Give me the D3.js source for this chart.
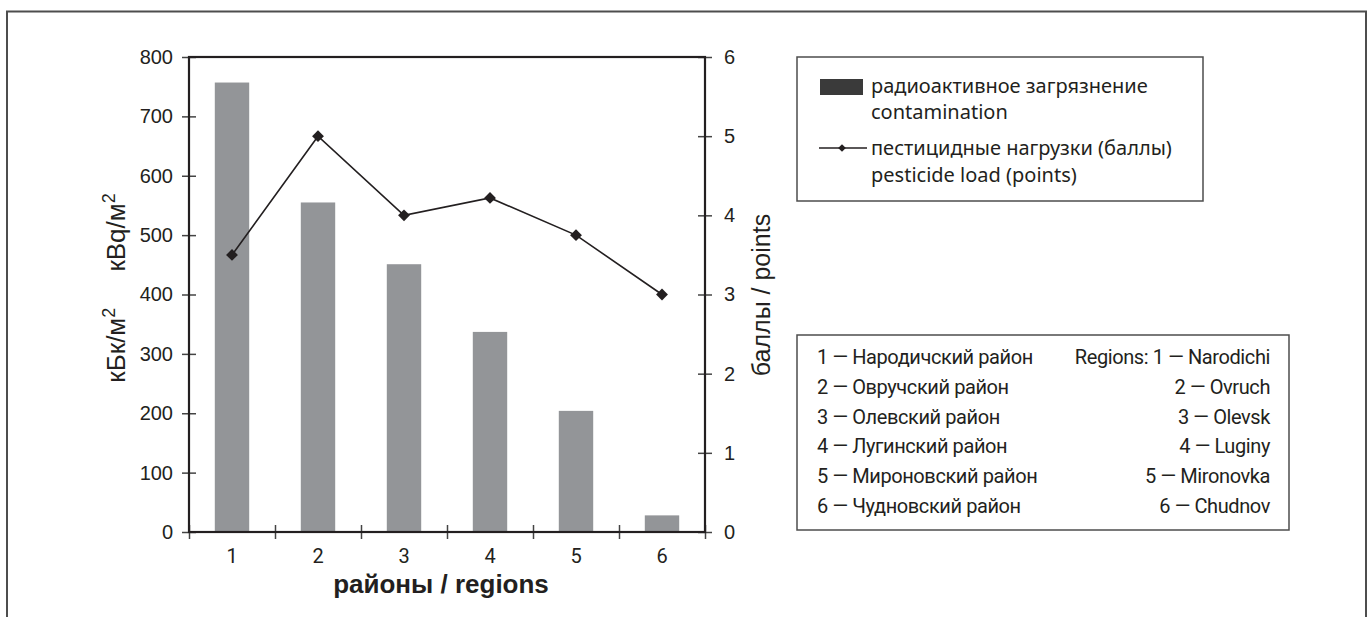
<!DOCTYPE html>
<html>
<head>
<meta charset="utf-8">
<script src="https://cdn.jsdelivr.net/npm/d3@7"></script>
<style>
  body { margin: 0; background: #fff; }
  svg { display: block; }
</style>
</head>
<body>
<svg id="chart"></svg>
<script>
// chart data
const regions = ["1", "2", "3", "4", "5", "6"];
const contamination = [757, 555, 451, 337, 204, 28];   // kBq/m2
const pesticideLoad = [3.5, 5.0, 4.0, 4.22, 3.75, 3.0]; // points
const leftTicks = [0, 100, 200, 300, 400, 500, 600, 700, 800];
const rightTicks = [0, 1, 2, 3, 4, 5, 6];

const legendItems = [
  ["радиоактивное загрязнение", "contamination"],
  ["пестицидные нагрузки (баллы)", "pesticide load (points)"]
];
const regionNamesRu = [
  "1 — Народичский район",
  "2 — Овручский район",
  "3 — Олевский район",
  "4 — Лугинский район",
  "5 — Мироновский район",
  "6 — Чудновский район"
];
const regionNamesEn = [
  "Regions: 1 — Narodichi",
  "2 — Ovruch",
  "3 — Olevsk",
  "4 — Luginy",
  "5 — Mironovka",
  "6 — Chudnov"
];

const width = 1372, height = 617;
const ink = "#231f20";
const barColor = "#939598";
const tickFont = "'Liberation Sans', Arial, sans-serif";
const narrowFont = "Roboto, 'Liberation Sans', sans-serif";
const legendFont = "'Noto Sans', 'Open Sans', sans-serif";

const svg = d3.select("#chart").attr("width", width).attr("height", height);

// outer frame (open at the bottom)
svg.append("path")
  .attr("d", `M7,${height} V11.5 H1366 V${height}`)
  .attr("fill", "none")
  .attr("stroke", "#4d4d4d")
  .attr("stroke-width", 2);

const plot = { left: 189, right: 705, top: 57, bottom: 532 };

const x = d3.scaleBand()
  .domain(regions)
  .range([plot.left, plot.right])
  .paddingInner(0.6)
  .paddingOuter(0.3);

const xEdges = d3.scaleLinear().domain([0, regions.length]).range([plot.left, plot.right]);
const y = d3.scaleLinear().domain([0, 800]).range([plot.bottom, plot.top]);
const y2 = d3.scaleLinear().domain([0, 6]).range([plot.bottom, plot.top]);

// bars
svg.append("g")
  .selectAll("rect")
  .data(contamination)
  .enter()
  .append("rect")
  .attr("x", (d, i) => x(regions[i]))
  .attr("y", d => y(d))
  .attr("width", x.bandwidth())
  .attr("height", d => y(0) - y(d))
  .attr("fill", barColor);

// left axis
const gLeft = svg.append("g")
  .attr("transform", `translate(${plot.left},0)`)
  .call(d3.axisLeft(y).tickValues(leftTicks).tickSize(7).tickSizeOuter(0).tickPadding(9));
gLeft.selectAll(".tick line").attr("x1", 7).attr("stroke", "#444").attr("stroke-width", 1.5);
gLeft.selectAll(".tick text").attr("font-family", tickFont).attr("font-size", 20).attr("fill", ink);

// right axis
const gRight = svg.append("g")
  .attr("transform", `translate(${plot.right},0)`)
  .call(d3.axisRight(y2).tickValues(rightTicks).tickFormat(d3.format("d"))
    .tickSize(7).tickSizeOuter(0).tickPadding(12));
gRight.selectAll(".tick line").attr("x1", -7).attr("stroke", "#444").attr("stroke-width", 1.5);
gRight.selectAll(".tick text").attr("font-family", tickFont).attr("font-size", 20).attr("fill", ink);

// bottom axis: ticks at category edges, labels at centres
const gEdges = svg.append("g")
  .attr("transform", `translate(0,${plot.bottom})`)
  .call(d3.axisBottom(xEdges).ticks(regions.length).tickSize(7).tickSizeOuter(0).tickFormat(""));
gEdges.selectAll(".tick line").attr("y1", -7).attr("stroke", "#444").attr("stroke-width", 1.5);

const gBottom = svg.append("g")
  .attr("transform", `translate(0,${plot.bottom})`)
  .call(d3.axisBottom(x).tickSize(0).tickSizeOuter(0).tickPadding(17));
gBottom.selectAll(".tick text").attr("font-family", narrowFont).attr("font-size", 20).attr("fill", ink);

svg.selectAll(".domain").remove();

// plot border
svg.append("rect")
  .attr("x", plot.left)
  .attr("y", plot.top)
  .attr("width", plot.right - plot.left)
  .attr("height", plot.bottom - plot.top)
  .attr("fill", "none")
  .attr("stroke", ink)
  .attr("stroke-width", 2.2);

// pesticide line
const line = d3.line()
  .x((d, i) => x(regions[i]) + x.bandwidth() / 2)
  .y(d => y2(d));

svg.append("path")
  .datum(pesticideLoad)
  .attr("fill", "none")
  .attr("stroke", ink)
  .attr("stroke-width", 1.6)
  .attr("d", line);

const diamond = d3.symbol().type(d3.symbolSquare).size(70);
svg.append("g")
  .selectAll("path")
  .data(pesticideLoad)
  .enter()
  .append("path")
  .attr("d", diamond)
  .attr("fill", ink)
  .attr("transform", (d, i) => `translate(${x(regions[i]) + x.bandwidth() / 2},${y2(d)}) rotate(45)`);

// axis titles
const leftTitle = svg.append("text")
  .attr("transform", `translate(125,288) rotate(-90)`)
  .attr("text-anchor", "middle")
  .attr("font-family", tickFont)
  .attr("font-size", 26)
  .attr("fill", ink);
leftTitle.append("tspan").text("кБк/м");
leftTitle.append("tspan").attr("dy", -10).attr("font-size", 18).text("2");
leftTitle.append("tspan").attr("dy", 10).text("\u00a0\u00a0\u00a0\u00a0\u00a0кВq/м");
leftTitle.append("tspan").attr("dy", -10).attr("font-size", 18).text("2");

svg.append("text")
  .attr("transform", `translate(770,295) rotate(-90)`)
  .attr("text-anchor", "middle")
  .attr("font-family", tickFont)
  .attr("font-size", 25)
  .attr("fill", ink)
  .text("баллы / points");

svg.append("text")
  .attr("x", (plot.left + plot.right) / 2 - 6)
  .attr("y", 593)
  .attr("text-anchor", "middle")
  .attr("font-family", tickFont)
  .attr("font-weight", "bold")
  .attr("font-size", 26)
  .attr("fill", ink)
  .text("районы / regions");

// series legend
const legend = svg.append("g");
legend.append("rect")
  .attr("x", 797).attr("y", 57).attr("width", 406).attr("height", 144)
  .attr("fill", "none").attr("stroke", "#4d4d4d").attr("stroke-width", 1.5);

legend.append("rect")
  .attr("x", 820).attr("y", 79).attr("width", 43).attr("height", 16)
  .attr("fill", "#3a3a3a");

legend.append("line")
  .attr("x1", 819).attr("x2", 867).attr("y1", 148).attr("y2", 148)
  .attr("stroke", ink).attr("stroke-width", 1.6);
legend.append("path")
  .attr("d", d3.symbol().type(d3.symbolSquare).size(30))
  .attr("fill", ink)
  .attr("transform", "translate(842,148) rotate(45)");

const legendBaselines = [[93, 119], [155, 182]];
legendItems.forEach((pair, i) => {
  pair.forEach((t, j) => {
    legend.append("text")
      .attr("x", 871)
      .attr("y", legendBaselines[i][j])
      .attr("font-family", legendFont)
      .attr("font-size", 20)
      .attr("fill", ink)
      .text(t);
  });
});

// region key
const key = svg.append("g");
key.append("rect")
  .attr("x", 797).attr("y", 335).attr("width", 492).attr("height", 195)
  .attr("fill", "none").attr("stroke", "#4d4d4d").attr("stroke-width", 1.5);

regionNamesRu.forEach((t, i) => {
  key.append("text")
    .attr("x", 817)
    .attr("y", 364 + i * 29.8)
    .attr("font-family", narrowFont)
    .attr("font-size", 20)
    .attr("letter-spacing", -0.4)
    .attr("fill", ink)
    .text(t);
});
regionNamesEn.forEach((t, i) => {
  key.append("text")
    .attr("x", 1270)
    .attr("y", 364 + i * 29.8)
    .attr("text-anchor", "end")
    .attr("font-family", narrowFont)
    .attr("font-size", 20)
    .attr("letter-spacing", -0.4)
    .attr("fill", ink)
    .text(t);
});
</script>
</body>
</html>
